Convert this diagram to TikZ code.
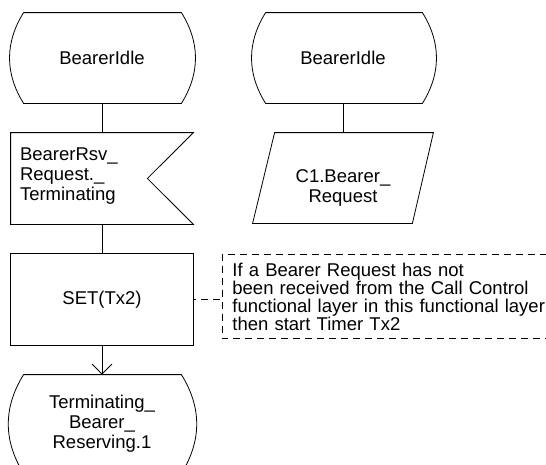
\documentclass[tikz,border=0pt]{standalone}
\usepackage{fontspec}
\setmainfont{Liberation Sans}
\usetikzlibrary{arrows.meta}
\begin{document}
\begin{tikzpicture}[x=1pt,y=-1pt,line width=0.8pt,
  every node/.style={font=\fontsize{18.5}{20}\selectfont},
  frame/.style={draw=none,rectangle,inner sep=0pt},
  note/.style={line width=0.7pt,dash pattern=on 7pt off 5pt},
  stateside/.style={bend left=32},
  arrowtip/.style={-{Straight Barb[length=10pt,width=20pt]}}]
\useasboundingbox (0,0) rectangle (546,464);
% nodes
\node[frame,minimum width=182pt,minimum height=90pt] (s1) at (102,58) {BearerIdle};
\node[frame,minimum width=182pt,minimum height=91pt,text width=164pt,inner xsep=9pt,align=left] (i1) at (102,178.5) {\\[-12pt]BearerRsv\_\\Request.\_\\Terminating};
\node[frame,minimum width=182pt,minimum height=91pt] (t1) at (102,299.5) {SET(Tx2)};
\node[frame,minimum width=182pt,minimum height=98pt,align=center] (f1) at (102,424) {Terminating\_\\Bearer\_\\Reserving.1};
\node[frame,minimum width=180pt,minimum height=90pt] (s2) at (343,58) {BearerIdle};
\node[frame,minimum width=180pt,minimum height=90pt] (p2) at (343,178) {};
\node[align=center] (p2t) at (343,188) {C1.Bearer\_\\Request};
\node[frame,anchor=west,minimum height=83pt,text width=316pt,inner xsep=10pt,align=left,
  font=\fontsize{18.5}{18}\selectfont] (c1) at (222,296.5)
  {If a Bearer Request has not\\been received from the Call Control\\functional layer in this functional layer\\then start Timer Tx2};
% outlines
\draw ([xshift=13pt]s1.north west) -- ([xshift=-12pt]s1.north east) to[stateside] ([xshift=-12pt]s1.south east) -- ([xshift=13pt]s1.south west) to[stateside] ([xshift=13pt]s1.north west);
\draw (i1.north west) -- (i1.north east) -- ([xshift=-46pt]i1.east) -- (i1.south east) -- (i1.south west) -- cycle;
\draw (t1.north west) rectangle (t1.south east);
\draw ([xshift=13pt]f1.north west) -- ([xshift=-12pt]f1.north east) to[stateside] ([xshift=-12pt]f1.south east) -- ([xshift=13pt]f1.south west) to[stateside] ([xshift=13pt]f1.north west);
\draw ([xshift=13pt]s2.north west) -- ([xshift=-11pt]s2.north east) to[stateside] ([xshift=-11pt]s2.south east) -- ([xshift=13pt]s2.south west) to[stateside] ([xshift=13pt]s2.north west);
\draw ([xshift=22pt]p2.north west) -- (p2.north east) -- ([xshift=-21pt]p2.south east) -- (p2.south west) -- cycle;
\draw[note] (c1.north east) -- (c1.north west) -- (c1.south west) -- (c1.south east);
% connectors
\draw (s1.south) -- (i1.north);
\draw (i1.south) -- (t1.north);
\draw[arrowtip] (t1.south) -- (f1.north);
\draw (s2.south) -- (p2.north);
\draw[note,dash phase=4pt] (t1.east) -- (t1.east -| c1.west);
\end{tikzpicture}
\end{document}
